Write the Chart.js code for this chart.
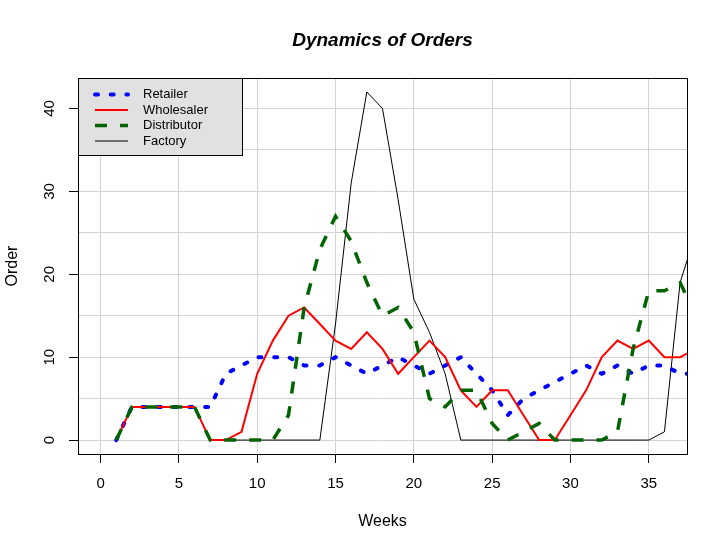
<!DOCTYPE html>
<html>
<head>
<meta charset="utf-8">
<script src="https://cdn.jsdelivr.net/npm/chart.js@4.4.1/dist/chart.umd.min.js"></script>
<style>
  html, body { margin: 0; padding: 0; background: #ffffff; }
  #wrap { width: 728px; height: 552px; }
</style>
</head>
<body>
<div id="wrap"><canvas id="orders" width="728" height="552"></canvas></div>
<script>
// weekly orders placed by each stage of the supply chain
const weeks       = [1, 2, 3, 4, 5, 6, 7, 8, 9, 10, 11, 12, 13, 14, 15, 16, 17, 18, 19, 20,
                     21, 22, 23, 24, 25, 26, 27, 28, 29, 30, 31, 32, 33, 34, 35, 36, 37, 38];
const retailer    = [0, 4, 4, 4, 4, 4, 4, 8, 9, 10, 10, 10, 9, 9, 10, 9, 8, 9, 10, 9,
                     8, 9, 10, 8, 6, 3, 5, 6, 7, 8, 9, 8, 9, 8, 9, 9, 8, 8];
const wholesaler  = [0, 4, 4, 4, 4, 4, 0, 0, 1, 8, 12, 15, 16, 14, 12, 11, 13, 11, 8, 10,
                     12, 10, 6, 4, 6, 6, 3, 0, 0, 3, 6, 10, 12, 11, 12, 10, 10, 11];
const distributor = [0, 4, 4, 4, 4, 4, 0, 0, 0, 0, 0, 3, 16, 23, 27, 24, 19, 15, 16, 13,
                     5, 4, 6, 6, 2, 0, 1, 2, 0, 0, 0, 0, 1, 11, 18, 18, 19, 15];
const factory     = [0, 4, 4, 4, 4, 4, 0, 0, 0, 0, 0, 0, 0, 0, 14, 31, 42, 40, 29, 17,
                     13, 8, 0, 0, 0, 0, 0, 0, 0, 0, 0, 0, 0, 0, 0, 1, 19, 25];
const yTickLabels = [0, 10, 20, 30, 40];

const FONT = '"Liberation Sans", Arial, sans-serif';
Chart.defaults.font.family = FONT;
Chart.defaults.color = '#000';

function pts(vals) {
    return vals.map((v, i) => ({ x: weeks[i], y: v }));
}

// R-style decorations: box, rotated y labels, titles, legend
const rDecor = {
    id: 'rDecor',
    afterDatasetsDraw(chart) {
        const { ctx, chartArea: a, scales: { y } } = chart;
        ctx.save();
        ctx.strokeStyle = '#000';
        ctx.lineWidth = 1;
        ctx.setLineDash([]);
        ctx.strokeRect(a.left + 0.5, a.top + 0.5, a.right - a.left, a.bottom - a.top);

        ctx.fillStyle = '#000';
        ctx.font = '15px ' + FONT;
        ctx.textAlign = 'center';
        ctx.textBaseline = 'middle';
        yTickLabels.forEach(v => {
            ctx.save();
            ctx.translate(50, y.getPixelForValue(v));
            ctx.rotate(-Math.PI / 2);
            ctx.fillText(String(v), 0, 0);
            ctx.restore();
        });

        const cx = (a.left + a.right) / 2;
        ctx.font = '16px ' + FONT;
        ctx.fillText('Weeks', cx, 522);
        ctx.save();
        ctx.translate(13, (a.top + a.bottom) / 2);
        ctx.rotate(-Math.PI / 2);
        ctx.fillText('Order', 0, 0);
        ctx.restore();

        ctx.font = 'italic bold 19px ' + FONT;
        ctx.fillText('Dynamics of Orders', cx, 41);

        // legend box
        ctx.fillStyle = '#e1e1e1';
        ctx.fillRect(a.left, a.top, 164, 77);
        ctx.strokeRect(a.left + 0.5, a.top + 0.5, 164, 77);
        const rows = [94.5, 110, 125.5, 141];
        ctx.font = '13px ' + FONT;
        ctx.textAlign = 'left';
        chart.data.datasets.forEach((ds, i) => {
            ctx.save();
            ctx.strokeStyle = ds.borderColor;
            ctx.lineWidth = ds.borderWidth;
            ctx.lineCap = ds.borderCapStyle || 'butt';
            ctx.setLineDash(ds.borderDash || []);
            ctx.beginPath();
            ctx.moveTo(95, rows[i]);
            ctx.lineTo(128, rows[i]);
            ctx.stroke();
            ctx.restore();
            ctx.fillStyle = '#000';
            ctx.fillText(ds.label, 143, rows[i]);
        });
        ctx.restore();
    }
};

const gridGrey = '#d3d3d3';

new Chart(document.getElementById('orders').getContext('2d'), {
    type: 'line',
    data: {
        datasets: [
            { label: 'Retailer', data: pts(retailer), borderColor: '#0000ff', borderWidth: 4,
              borderDash: [3, 12.7], borderCapStyle: 'round', order: 2 },
            { label: 'Wholesaler', data: pts(wholesaler), borderColor: '#ff0000', borderWidth: 2, order: 1 },
            { label: 'Distributor', data: pts(distributor), borderColor: '#006400', borderWidth: 3.5,
              borderDash: [12, 13], order: 0 },
            { label: 'Factory', data: pts(factory), borderColor: '#000000', borderWidth: 1, order: 3 }
        ]
    },
    options: {
        responsive: false,
        animation: false,
        devicePixelRatio: 1,
        layout: { padding: { top: 78, right: 41, left: 0, bottom: 0 } },
        elements: { point: { radius: 0 }, line: { tension: 0, fill: false } },
        datasets: { line: { clip: 0 } },
        plugins: { legend: { display: false }, title: { display: false }, tooltip: { enabled: false } },
        scales: {
            x: {
                type: 'linear',
                min: -1.44, max: 37.44,
                border: { display: false },
                grid: { color: gridGrey, lineWidth: 1, tickColor: '#000', tickLength: 9 },
                ticks: { stepSize: 5, includeBounds: false, maxRotation: 0, padding: 12,
                         font: { size: 15 }, color: '#000' },
                afterFit(scale) { scale.height = 98; }
            },
            y: {
                type: 'linear',
                min: -1.68, max: 43.68,
                border: { display: false },
                grid: {
                    color: gridGrey, lineWidth: 1, tickLength: 9,
                    tickColor: c => (c.tick && c.tick.value % 10 === 0) ? '#000' : 'rgba(0,0,0,0)'
                },
                ticks: { stepSize: 5, includeBounds: false, display: false },
                afterFit(scale) { scale.width = 78; }
            }
        }
    },
    plugins: [rDecor]
});
</script>
</body>
</html>
